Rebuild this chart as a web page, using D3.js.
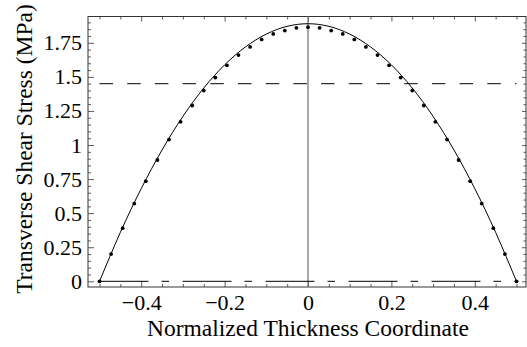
<!DOCTYPE html>
<html>
<head>
<meta charset="utf-8">
<script src="https://cdn.jsdelivr.net/npm/d3@7"></script>
<style>
  body { margin: 0; background: #fff; }
  svg { display: block; }
  text { font-family: "Liberation Serif", "Times New Roman", serif; fill: #000; }
</style>
</head>
<body>
<div id="chart"></div>
<script>
// dots (FE results), z = -0.5 .. 0.5 in 37 steps
const dotZ = d3.range(37).map(k => -0.5 + k / 36);
const dotStress = [0, 0.20, 0.39, 0.57, 0.735, 0.89, 1.04, 1.17, 1.29, 1.40, 1.495, 1.585,
  1.66, 1.72, 1.775, 1.815, 1.84, 1.86, 1.865, 1.86, 1.84, 1.815, 1.775, 1.72, 1.66,
  1.585, 1.495, 1.40, 1.29, 1.17, 1.04, 0.89, 0.735, 0.57, 0.39, 0.20, 0];

// solid curve (exact solution) read at z steps of 0.05
const curveZ = [-0.5, -0.45, -0.4, -0.35, -0.3, -0.25, -0.2, -0.15, -0.1, -0.05, 0,
  0.05, 0.1, 0.15, 0.2, 0.25, 0.3, 0.35, 0.4, 0.45, 0.5];
const curveStress = [0, 0.359, 0.680, 0.964, 1.210, 1.418, 1.588, 1.720, 1.814, 1.871, 1.89,
  1.871, 1.814, 1.720, 1.588, 1.418, 1.210, 0.964, 0.680, 0.359, 0];

// horizontal reference lines
const dashedLevel = 1.45;
const baseLevel = 0;
const lineZRange = [-0.5, 0.5];

// ticks
const xTicks = [-0.4, -0.2, 0, 0.2, 0.4];
const yTicks = [0, 0.25, 0.5, 0.75, 1, 1.25, 1.5, 1.75];

const W = 527, H = 347;
const frame = {left: 88, right: 526, top: 16.5, bottom: 287};

const svg = d3.select('#chart').append('svg')
  .attr('width', W)
  .attr('height', H);

const x = d3.scaleLinear()
  .domain([-0.5276, 0.5228])
  .range([frame.left, frame.right]);

const y = d3.scaleLinear()
  .domain([-0.0418, 1.943])
  .range([frame.bottom, frame.top]);

const fmt = d3.format('');
const xMinor = d3.range(-10, 11).map(i => i * 0.05).filter(v => !xTicks.some(t => Math.abs(t - v) < 1e-9));
const yMinor = d3.range(0, 39).map(i => i * 0.05).filter(v => !yTicks.some(t => Math.abs(t - v) < 1e-9));

function styleAxis(g) {
  g.select('.domain').remove();
  g.selectAll('line').attr('stroke', '#333').attr('stroke-width', 0.8);
}

// bottom
svg.append('g').attr('transform', `translate(0,${frame.bottom})`)
  .call(d3.axisBottom(x).tickValues(xMinor).tickSize(-3).tickFormat(''))
  .call(styleAxis);
svg.append('g').attr('transform', `translate(0,${frame.bottom})`)
  .call(d3.axisBottom(x).tickValues(xTicks).tickSize(-6).tickPadding(7).tickFormat(fmt))
  .call(styleAxis)
  .selectAll('text').style('font-size', '22px');

// top
svg.append('g').attr('transform', `translate(0,${frame.top})`)
  .call(d3.axisTop(x).tickValues(xMinor).tickSize(-3).tickFormat(''))
  .call(styleAxis);
svg.append('g').attr('transform', `translate(0,${frame.top})`)
  .call(d3.axisTop(x).tickValues(xTicks).tickSize(-5).tickFormat(''))
  .call(styleAxis);

// left
svg.append('g').attr('transform', `translate(${frame.left},0)`)
  .call(d3.axisLeft(y).tickValues(yMinor).tickSize(-3).tickFormat(''))
  .call(styleAxis);
svg.append('g').attr('transform', `translate(${frame.left},0)`)
  .call(d3.axisLeft(y).tickValues(yTicks).tickSize(-6).tickPadding(6).tickFormat(fmt))
  .call(styleAxis)
  .selectAll('text').style('font-size', '22px');

// right
svg.append('g').attr('transform', `translate(${frame.right},0)`)
  .call(d3.axisRight(y).tickValues(yMinor).tickSize(-2.5).tickFormat(''))
  .call(styleAxis);
svg.append('g').attr('transform', `translate(${frame.right},0)`)
  .call(d3.axisRight(y).tickValues(yTicks).tickSize(-4).tickFormat(''))
  .call(styleAxis);

// frame
svg.append('rect')
  .attr('x', frame.left)
  .attr('y', frame.top)
  .attr('width', frame.right - frame.left)
  .attr('height', frame.bottom - frame.top)
  .attr('fill', 'none')
  .attr('stroke', '#333')
  .attr('stroke-width', 1);

// vertical axis at z = 0
svg.append('line')
  .attr('x1', x(0)).attr('x2', x(0))
  .attr('y1', frame.bottom).attr('y2', frame.top)
  .attr('stroke', '#7a7a7a')
  .attr('stroke-width', 1.3);

// dashed line
svg.append('line')
  .attr('x1', x(lineZRange[0])).attr('x2', x(lineZRange[1]))
  .attr('y1', y(dashedLevel)).attr('y2', y(dashedLevel))
  .attr('stroke', '#000')
  .attr('stroke-width', 1)
  .attr('stroke-dasharray', '13.5,14.2');

// dash-dot line at zero
svg.append('line')
  .attr('x1', x(lineZRange[0])).attr('x2', x(lineZRange[1]))
  .attr('y1', y(baseLevel)).attr('y2', y(baseLevel))
  .attr('stroke', '#000')
  .attr('stroke-width', 1)
  .attr('stroke-dasharray', '49,13,7.5,13.5');

// solid curve
const line = d3.line()
  .x((d, i) => x(curveZ[i]))
  .y(d => y(d))
  .curve(d3.curveNatural);

svg.append('path')
  .datum(curveStress)
  .attr('d', line)
  .attr('fill', 'none')
  .attr('stroke', '#000')
  .attr('stroke-width', 1);

// dots
svg.selectAll('circle.dot')
  .data(dotStress)
  .join('circle')
  .attr('class', 'dot')
  .attr('cx', (d, i) => x(dotZ[i]))
  .attr('cy', d => y(d))
  .attr('r', 1.9)
  .attr('fill', '#000');

// axis labels
svg.append('text')
  .attr('x', 308)
  .attr('y', 336)
  .attr('text-anchor', 'middle')
  .style('font-size', '23.5px')
  .text('Normalized Thickness Coordinate');

svg.append('text')
  .attr('transform', 'translate(32,149) rotate(-90)')
  .attr('text-anchor', 'middle')
  .style('font-size', '23.5px')
  .text('Transverse Shear Stress (MPa)');
</script>
</body>
</html>
